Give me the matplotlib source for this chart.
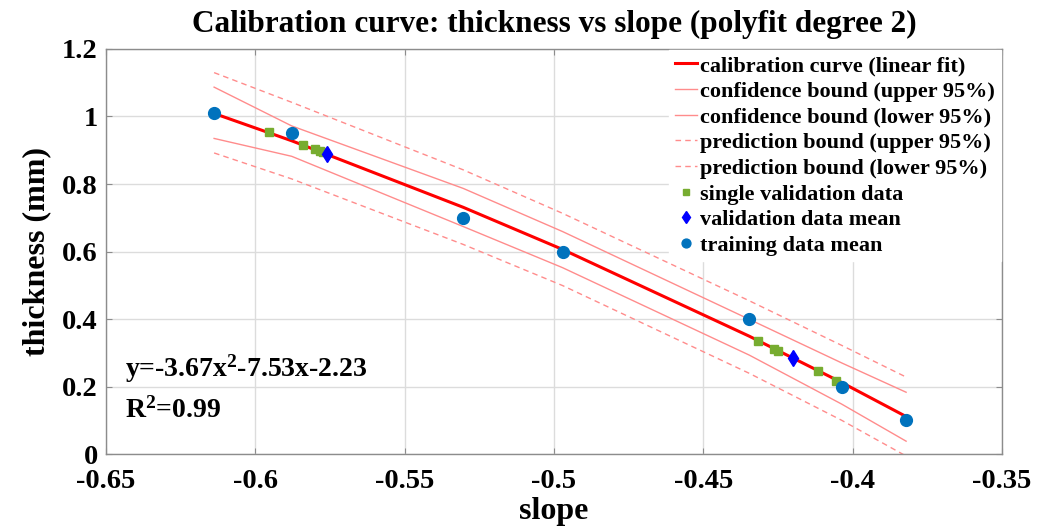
import matplotlib
matplotlib.use("Agg")
import matplotlib.pyplot as plt
from matplotlib.ticker import FuncFormatter, MultipleLocator

# ---- data ----
x_train = [-0.6138, -0.5878, -0.5304, -0.4971, -0.4346, -0.4037, -0.3821]
y_train = [1.01, 0.95, 0.70, 0.60, 0.40, 0.20, 0.10]

fit_y   = [1.009, 0.928, 0.731, 0.606, 0.349, 0.212, 0.111]
conf_up = [1.087, 0.972, 0.787, 0.659, 0.399, 0.270, 0.183]
conf_lo = [0.935, 0.882, 0.674, 0.552, 0.293, 0.148, 0.038]
pred_up = [1.130, 1.042, 0.842, 0.713, 0.454, 0.322, 0.228]
pred_lo = [0.892, 0.815, 0.621, 0.499, 0.239, 0.100, -0.006]

x_single = [-0.5954, -0.5840, -0.5800, -0.5785, -0.5775,
            -0.4316, -0.4263, -0.4251, -0.4116, -0.4057]
y_single = [0.953, 0.916, 0.903, 0.899, 0.896,
            0.335, 0.310, 0.305, 0.245, 0.217]

x_valmean = [-0.5761, -0.4201]
y_valmean = [0.890, 0.285]

labels = ["calibration curve (linear fit)",
          "confidence bound (upper 95%)",
          "confidence bound (lower 95%)",
          "prediction bound (upper 95%)",
          "prediction bound (lower 95%)",
          "single validation data",
          "validation data mean",
          "training data mean"]

title = "Calibration curve: thickness vs slope (polyfit degree 2)"
eq_text = r"y=-3.67x$^{\mathbf{2}}$-7.53x-2.23"
r2_text = r"R$^{\mathbf{2}}$=0.99"

plt.rcParams['font.family'] = ['Liberation Serif', 'DejaVu Serif']
plt.rcParams['font.weight'] = 'bold'
plt.rcParams['mathtext.fontset'] = 'custom'
plt.rcParams['mathtext.rm'] = 'Liberation Serif:bold'
plt.rcParams['mathtext.bf'] = 'Liberation Serif:bold'
plt.rcParams['mathtext.it'] = 'Liberation Serif:bold'

fig = plt.figure(figsize=(10.38, 5.32), dpi=100)
ax = fig.add_axes([0.1021, 0.1466, 0.8632, 0.7613])

pink = '#FF8C8C'
ax.plot(x_train, fit_y, color='#FF0000', lw=2.2, label=labels[0], zorder=3)
ax.plot(x_train, conf_up, color=pink, lw=1.0, label=labels[1], zorder=2)
ax.plot(x_train, conf_lo, color=pink, lw=1.0, label=labels[2], zorder=2)
ax.plot(x_train, pred_up, color=pink, lw=1.0, ls=(0, (4, 3)), label=labels[3], zorder=2)
ax.plot(x_train, pred_lo, color=pink, lw=1.0, ls=(0, (4, 3)), label=labels[4], zorder=2)
ax.plot(x_single, y_single, ls='none', marker='s', ms=5.5, color='#77AC30', label=labels[5], zorder=4)
ax.plot(x_valmean, y_valmean, ls='none', marker='d', ms=8, color='#0000FF', label=labels[6], zorder=5)
ax.plot(x_train, y_train, ls='none', marker='o', ms=8.5, color='#0072BD', label=labels[7], zorder=5)

ax.set_xlim(-0.65, -0.35)
ax.set_ylim(0, 1.2)
ax.xaxis.set_major_locator(MultipleLocator(0.05))
ax.yaxis.set_major_locator(MultipleLocator(0.2))
fmt = FuncFormatter(lambda v, p: '%g' % round(v, 4))
ax.xaxis.set_major_formatter(fmt)
ax.yaxis.set_major_formatter(fmt)
ax.grid(True, color='#DCDCDC', lw=1.0, zorder=0)
ax.set_axisbelow(True)
for s in ax.spines.values():
    s.set_color('#8C8C8C')
    s.set_linewidth(1.0)
ax.tick_params(direction='in', length=4, width=0.8, color='#8C8C8C',
               top=True, right=True, labelsize=20.5)
ax.tick_params(axis='x', pad=11)
ax.tick_params(axis='y', pad=6)
for t in ax.get_xticklabels() + ax.get_yticklabels():
    t.set_fontweight('bold')

ax.set_xlabel('slope', fontsize=23, fontweight='bold', labelpad=2)
ax.set_ylabel('thickness (mm)', fontsize=23, fontweight='bold', labelpad=8)
ax.set_title(title, fontsize=22.5, fontweight='bold', pad=12)

ax.text(0.021, 0.19, eq_text, transform=ax.transAxes, fontsize=20, fontweight='bold')
ax.text(0.021, 0.089, r2_text, transform=ax.transAxes, fontsize=20, fontweight='bold')

leg = ax.legend(loc='upper right', fontsize=16, frameon=True, fancybox=False,
                edgecolor='white', framealpha=1.0, labelspacing=0.23,
                handlelength=1.0, handletextpad=0.15, borderaxespad=0.05,
                borderpad=0.25, markerscale=0.75)
for t in leg.get_texts():
    t.set_fontweight('bold')

fig.savefig('out.png', dpi=100)
